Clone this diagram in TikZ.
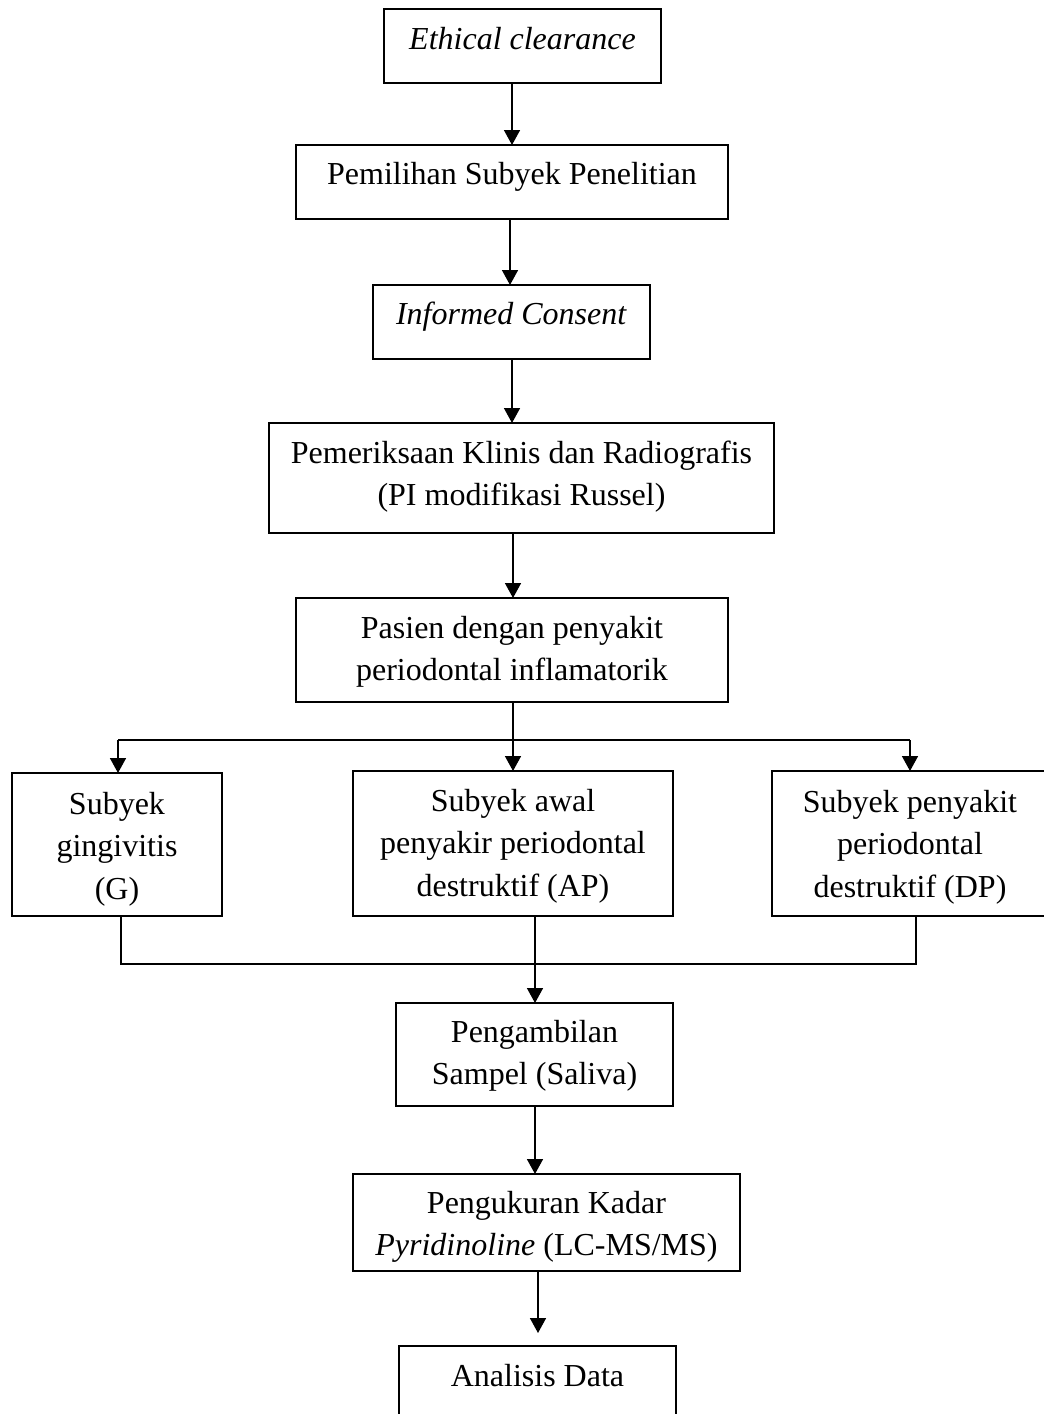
\documentclass[tikz,border=0pt]{standalone}
\usepackage{fontspec}
\setmainfont{Liberation Serif}
\usetikzlibrary{arrows.meta,calc}
\newcommand{\bxt}[4]{\parbox[c][#2][t]{#1}{\fontsize{32pt}{42.5pt}\selectfont\lineskiplimit=-100pt\centering\rule{0pt}{#3}#4}}
\begin{document}
\begin{tikzpicture}[x=1pt,y=-1pt,
  box/.style={draw, line width=1.3pt, inner sep=0pt, outer sep=0pt, anchor=north west},
  conn/.style={line width=1.6pt},
  arr/.style={line width=1.6pt, -{Triangle[width=16pt,length=15pt]}},
  branch/.style={line width=2pt}]
\useasboundingbox (0,0) rectangle (1044,1414);
\fill[white] (0,0) rectangle (1044,1414);
% boxes
\node[box] (E) at (384,9) {\bxt{277pt}{74pt}{40pt}{\textit{Ethical clearance}}};
\node[box] (P) at (296,145) {\bxt{432pt}{74pt}{39pt}{Pemilihan Subyek Penelitian}};
\node[box] (IC) at (373,285) {\bxt{277pt}{74pt}{39pt}{\textit{Informed Consent}}};
\node[box] (Pem) at (269,423) {\bxt{505pt}{110pt}{40pt}{Pemeriksaan Klinis dan Radiografis\\(PI modifikasi Russel)}};
\node[box] (Pas) at (296,598) {\bxt{432pt}{104pt}{40pt}{Pasien dengan penyakit\\periodontal inflamatorik}};
\node[box] (G) at (12,773) {\bxt{210pt}{143pt}{41pt}{Subyek\\gingivitis\\(G)}};
\node[box] (AP) at (353,771) {\bxt{320pt}{145pt}{40pt}{Subyek awal\\penyakir periodontal\\destruktif (AP)}};
\node[box] (DP) at (772,771) {\bxt{276pt}{145pt}{41pt}{Subyek penyakit\\periodontal\\destruktif (DP)}};
\node[box] (Sam) at (396,1003) {\bxt{277pt}{103pt}{39pt}{Pengambilan\\Sampel (Saliva)}};
\node[box] (Ukr) at (353,1174) {\bxt{387pt}{97pt}{39pt}{Pengukuran Kadar\\\textit{Pyridinoline} (LC-MS/MS)}};
\node[box] (An) at (399,1346) {\bxt{277pt}{110pt}{40pt}{Analisis Data}};
% connector x positions
\coordinate (x1) at (512,0);
\coordinate (x2) at (510,0);
\coordinate (x3) at (512,0);
\coordinate (x4) at (513,0);
\coordinate (bl) at (118,740);
\coordinate (br) at (910,740);
\coordinate (jn) at (513,740);
\coordinate (gx) at (121,0);
\coordinate (dx) at (916,0);
\coordinate (mj) at (535,964);
\coordinate (x6) at (535,0);
\coordinate (x7) at (538,0);
% connectors
\draw[arr] (E.south -| x1) -- (P.north -| x1);
\draw[arr] (P.south -| x2) -- (IC.north -| x2);
\draw[arr] (IC.south -| x3) -- (Pem.north -| x3);
\draw[arr] (Pem.south -| x4) -- (Pas.north -| x4);
\draw[arr] (Pas.south -| x4) -- (AP.north -| x4);
\draw[branch] (bl) -- (br);
\draw[arr] (bl) -- (G.north -| bl);
\draw[arr] (br) -- (DP.north -| br);
\draw[conn] (G.south -| gx) |- (mj);
\draw[conn] (DP.south -| dx) |- (mj);
\draw[arr] (AP.south -| x6) -- (Sam.north -| x6);
\draw[arr] (Sam.south -| x6) -- (Ukr.north -| x6);
\draw[arr] (Ukr.south -| x7) -- ($(An.north -| x7)+(0,-13)$);
\end{tikzpicture}
\end{document}
